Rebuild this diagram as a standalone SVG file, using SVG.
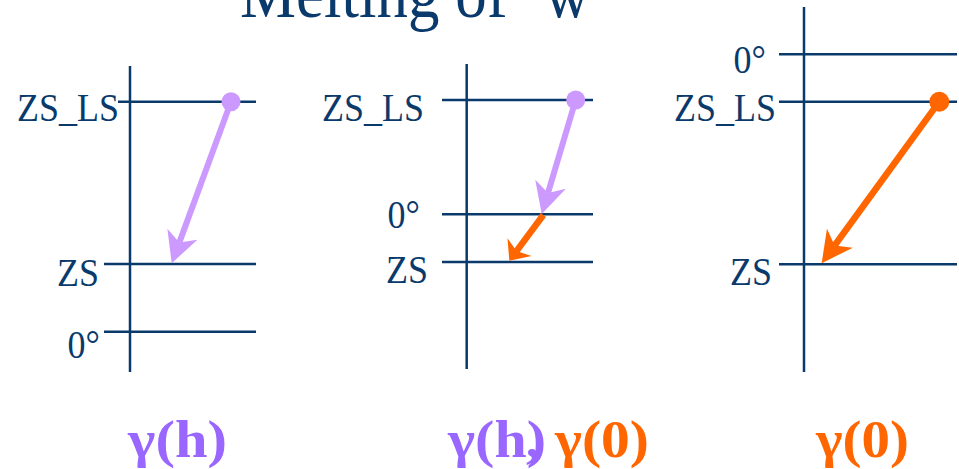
<svg xmlns="http://www.w3.org/2000/svg" width="959" height="469" viewBox="0 0 959 469">
<style>
  .ax { stroke: #0a3a6b; stroke-width: 2.5; fill: none; }
  .lbl { font-family: "Liberation Serif", "Times New Roman", serif; font-size: 36px; fill: #0a3a6b; text-anchor: end; }
  .ttl { font-family: "Liberation Serif", "Times New Roman", serif; font-size: 63px; fill: #0a3a6b; }
  .big { font-family: "Liberation Serif", "Times New Roman", serif; font-size: 52px; font-weight: bold; }
  .pur { fill: #9966ff; }
  .org { fill: #ff6600; }
  .aP { stroke: #cc99ff; stroke-width: 6; fill: none; }
  .aO { stroke: #ff6600; stroke-width: 6.5; fill: none; }
</style>
<defs>
  <marker id="hP" markerUnits="userSpaceOnUse" markerWidth="40" markerHeight="40" viewBox="-12 -20 40 40" refX="0" refY="0" orient="auto" overflow="visible">
    <path d="M22,0 L-9,-16 L0,0 L-9,16 Z" fill="#cc99ff"/>
  </marker>
  <marker id="hO" markerUnits="userSpaceOnUse" markerWidth="40" markerHeight="40" viewBox="-12 -20 40 40" refX="0" refY="0" orient="auto" overflow="visible">
    <path d="M22,0 L-9,-16 L0,0 L-9,16 Z" fill="#ff6600"/>
  </marker>
  <marker id="hOs" markerUnits="userSpaceOnUse" markerWidth="40" markerHeight="40" viewBox="-12 -20 40 40" refX="0" refY="0" orient="auto" overflow="visible">
    <path d="M12,0 L-5,-15 L0,0 L-5,15 Z" fill="#ff6600"/>
  </marker>
</defs>

<g id="title">
  <text class="ttl" transform="translate(240,16.5) scale(1,1.12)" x="0" y="0">Melting of ‘w’</text>
</g>

<g id="panel1">
  <line class="ax" x1="130" y1="66" x2="130" y2="372"/>
  <line class="ax" x1="118" y1="101.7" x2="256" y2="101.7"/>
  <line class="ax" x1="104" y1="264" x2="256" y2="264"/>
  <line class="ax" x1="104" y1="331.7" x2="256" y2="331.7"/>
  <text class="lbl" transform="translate(119,120.5) scale(1,1.12)">ZS_LS</text>
  <text class="lbl" transform="translate(99,285.5) scale(1,1.12)">ZS</text>
  <text class="lbl" transform="translate(100,358) scale(1,1.12)">0°</text>
  <circle cx="231" cy="101.7" r="9.5" fill="#cc99ff"/>
  <text class="big pur" x="128" y="457" textLength="99" lengthAdjust="spacingAndGlyphs">γ(h)</text>
</g>

<g id="panel2">
  <line class="ax" x1="466.7" y1="64" x2="466.7" y2="369"/>
  <line class="ax" x1="442" y1="100" x2="593" y2="100"/>
  <line class="ax" x1="442" y1="214.3" x2="593" y2="214.3"/>
  <line class="ax" x1="442" y1="262" x2="593" y2="262"/>
  <text class="lbl" transform="translate(424,121) scale(1,1.12)">ZS_LS</text>
  <text class="lbl" transform="translate(420,228) scale(1,1.12)">0°</text>
  <text class="lbl" transform="translate(428,283) scale(1,1.12)">ZS</text>
  <circle cx="575.7" cy="100" r="9.5" fill="#cc99ff"/>
  <text class="big pur" x="448" y="457" textLength="98" lengthAdjust="spacingAndGlyphs">γ(h)</text>
  <text class="big pur" x="526" y="457">,</text>
  <text class="big org" x="555" y="457" textLength="94" lengthAdjust="spacingAndGlyphs">γ(0)</text>
</g>

<g id="panel3">
  <line class="ax" x1="804" y1="7" x2="804" y2="372"/>
  <line class="ax" x1="779" y1="54.3" x2="957" y2="54.3"/>
  <line class="ax" x1="779" y1="101.7" x2="957" y2="101.7"/>
  <line class="ax" x1="779" y1="264.3" x2="957" y2="264.3"/>
  <text class="lbl" transform="translate(766,73) scale(1,1.12)">0°</text>
  <text class="lbl" transform="translate(776,120.5) scale(1,1.12)">ZS_LS</text>
  <text class="lbl" transform="translate(772,285) scale(1,1.12)">ZS</text>
  <circle cx="939.3" cy="101.7" r="10" fill="#ff6600"/>
  <text class="big org" x="816" y="457" textLength="93" lengthAdjust="spacingAndGlyphs">γ(0)</text>
</g>

<g id="connectors">
  <line class="aP" x1="231" y1="101.7" x2="179.3" y2="242.6" marker-end="url(#hP)"/>
  <line class="aP" x1="575.7" y1="100" x2="548" y2="192.9" marker-end="url(#hP)"/>
  <line class="aO" x1="543.3" y1="215" x2="516.5" y2="251.1" marker-end="url(#hOs)"/>
  <line class="aO" x1="939.3" y1="101.7" x2="834.6" y2="245.5" marker-end="url(#hO)"/>
</g>
</svg>
